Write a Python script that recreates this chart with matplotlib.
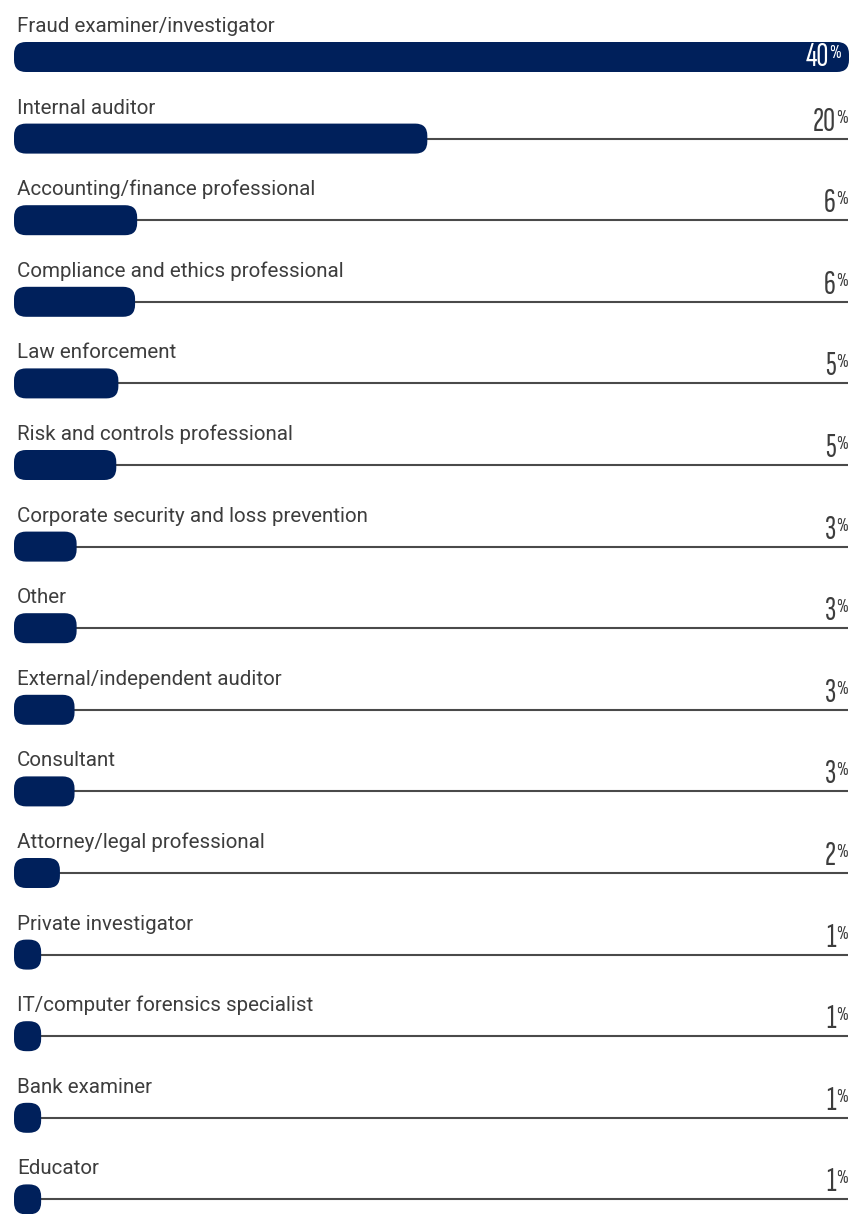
import matplotlib
matplotlib.use("Agg")
import matplotlib.pyplot as plt
from matplotlib.patches import FancyBboxPatch

categories = [
    "Fraud examiner/investigator",
    "Internal auditor",
    "Accounting/finance professional",
    "Compliance and ethics professional",
    "Law enforcement",
    "Risk and controls professional",
    "Corporate security and loss prevention",
    "Other",
    "External/independent auditor",
    "Consultant",
    "Attorney/legal professional",
    "Private investigator",
    "IT/computer forensics specialist",
    "Bank examiner",
    "Educator",
]
values = [40.0, 19.8, 5.9, 5.8, 5.0, 4.9, 3.0, 3.0, 2.9, 2.9, 2.2, 1.3, 1.3, 1.3, 1.3]
pct_labels = [40, 20, 6, 6, 5, 5, 3, 3, 3, 3, 2, 1, 1, 1, 1]

NAVY = "#00205B"
LINE = "#4a4a4a"
TEXT = "#3d3d3d"
NUM_FONT = "Sofia Sans Extra Condensed"

W, H, DPI = 866, 1214, 100
fig = plt.figure(figsize=(W / DPI, H / DPI), dpi=DPI)
ax = fig.add_axes([0, 0, 1, 1])
ax.set_axis_off()

# pixel geometry -> data limits
vmax = max(values)
px_per_pct = 835 / vmax
row_px = 81.6
top_px = 57
ax.set_xlim(-14 / px_per_pct, (W - 14) / px_per_pct)
ax.set_ylim((H - top_px) / row_px, -top_px / row_px)

bar_h = 30 / row_px
aspect = (1 / row_px) / (1 / px_per_pct)
radius = 12 / px_per_pct
right = vmax - 1 / px_per_pct

for i, (cat, v, lab) in enumerate(zip(categories, values, pct_labels)):
    ax.plot([v * 0.5, right], [i, i], color=LINE, lw=1.5, zorder=1,
            solid_capstyle="butt")
    bar = FancyBboxPatch((0, i - bar_h / 2), v, bar_h,
                         boxstyle=f"round,pad=0,rounding_size={radius}",
                         mutation_aspect=aspect, fc=NAVY, ec="none", zorder=2)
    ax.add_patch(bar)
    ax.text(3 / px_per_pct, i - 25 / row_px, cat, fontsize=14.8,
            family="Roboto", color=TEXT, va="baseline", ha="left")

    # value label: big digits + small raised percent sign
    inside = v >= vmax
    col = "white" if inside else TEXT
    xr = right - (7 / px_per_pct if inside else 0)
    base = i + 9 / row_px if inside else i - 8 / row_px
    pct = ax.text(xr, base - 8 / row_px, "%", fontsize=14.5,
                  family=NUM_FONT, color=col,
                  ha="right", va="baseline", zorder=3)
    ax.annotate(str(lab), xy=(0, base), xycoords=(pct, "data"),
                xytext=(-0.4, 0), textcoords="offset points", fontsize=24,
                family=NUM_FONT, color=col,
                ha="right", va="baseline", zorder=3)

fig.savefig("out.png", dpi=DPI)
